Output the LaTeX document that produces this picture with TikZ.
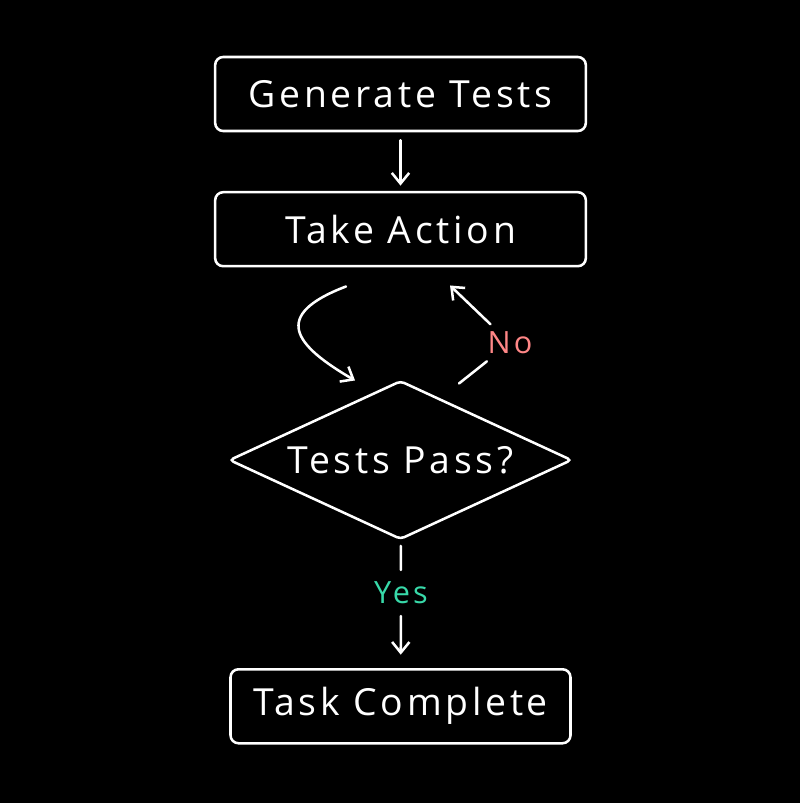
\documentclass[tikz,border=0pt]{standalone}
\usepackage{fontspec}
\setmainfont{Open Sans}[LetterSpace=10]
\usetikzlibrary{shapes.geometric, arrows.meta, positioning}

\definecolor{nored}{HTML}{FF8787}
\definecolor{yesgreen}{HTML}{38D9A9}

\begin{document}
\begin{tikzpicture}[
    x=0.75pt, y=-0.75pt,
    font=\fontsize{28}{32}\selectfont,
    >={Straight Barb[length=8pt, width=13pt]},
    line width=1.9pt, line cap=round, draw=white,
    box/.style    ={rectangle, rounded corners=6pt, draw=white, text=white,
                    minimum width=278pt, minimum height=55.5pt, align=center},
    decision/.style={diamond, rounded corners=3pt, draw=white, text=white,
                    minimum width=257pt, minimum height=119pt,
                    shape aspect=2.2, inner sep=0pt},
    lbl/.style    ={font=\fontsize{23}{26}\selectfont, inner sep=2pt},
    conn/.style   ={draw=white, line width=1.9pt},
]

% ---- Background / frame ----
\useasboundingbox[fill=black] (0,0) rectangle (800,803);

% ---- Steps ----
\node[box] (gen) at (400.5,94) {Generate Tests};
\node[box, below=44pt of gen] (act) {Take Action};
\node[decision, below=84pt of act] (pass) {Tests Pass?};
\node[box, minimum width=255pt, below=95.5pt of pass] (done) {Task Complete};

% ---- Labels ----
\node[lbl, text=nored] (no) at (510,343) {No};
\node[lbl, text=yesgreen] (yes) at (401,593) {Yes};

% ---- Arrows ----
\draw[conn, ->, shorten <=6pt, shorten >=4pt] (gen) -- (act);

\draw[conn, ->] ([shift={(-54.5,19)}]act.south)
   .. controls ([shift={(-130.5,48)}]act.south) and ([shift={(-105.5,78)}]act.south)
   .. ([shift={(-45.5,1)}]pass.north);

\draw[conn, shorten >=4pt] ([shift={(58.5,4)}]pass.north) -- (no);
\draw[conn, ->, shorten <=4pt] (no) -- ([shift={(49.5,18)}]act.south);

\draw[conn, shorten <=4pt, shorten >=6pt] (pass) -- (yes);
\draw[conn, ->, shorten <=6pt, shorten >=10pt] (yes) -- (done);

\end{tikzpicture}
\end{document}
